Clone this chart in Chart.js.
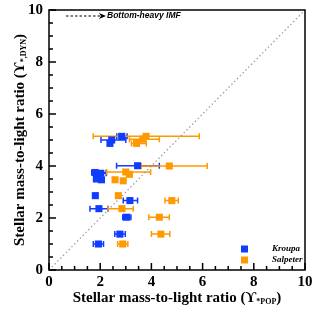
<!DOCTYPE html>
<html>
<head>
<meta charset="utf-8">
<script src="https://cdn.jsdelivr.net/npm/chart.js@4/dist/chart.umd.min.js"></script>
<style>
  html, body { margin: 0; padding: 0; background: #fff; }
  #wrap { width: 312px; height: 315px; }
</style>
</head>
<body>
<div id="wrap"><canvas id="chart"></canvas></div>
<script>
// Kroupa IMF points (blue)
var kroupaX = [2.84, 2.45, 2.38, 3.46, 1.80, 2.02, 1.85, 2.05, 1.81, 3.16, 1.95, 3.03, 2.77, 1.93]
var kroupaY = [5.14, 5.00, 4.87, 4.01, 3.75, 3.72, 3.50, 3.47, 2.86, 2.67, 2.36, 2.03, 1.38, 1.00]
var kroupaLo = [2.65, 2.03, null, 2.64, 1.67, 1.80, null, null, null, 2.90, 1.60, 2.88, 2.57, 1.73]
var kroupaHi = [3.05, 3.00, null, 4.31, 2.24, 2.24, null, null, null, 3.46, 2.30, 3.20, 2.98, 2.13]

// Salpeter IMF points (orange)
var salpeterX = [3.79, 3.66, 3.42, 4.70, 3.00, 3.14, 2.58, 2.90, 2.71, 4.80, 2.85, 4.31, 4.37, 2.88]
var salpeterY = [5.14, 5.03, 4.87, 4.00, 3.77, 3.68, 3.47, 3.43, 2.86, 2.67, 2.36, 2.03, 1.38, 1.00]
var salpeterLo = [1.73, 3.14, 3.22, 3.60, 2.25, null, null, null, null, 4.53, 2.30, 3.90, 4.00, 2.68]
var salpeterHi = [5.87, 4.31, 3.80, 6.18, 3.97, null, null, null, null, 5.05, 3.29, 4.70, 4.72, 3.08]

// one-to-one line
var diagX = [0, 10]
var diagY = [0, 10]

var tickValues = [0, 2, 4, 6, 8, 10]
var minorStep = 0.5

const blue = '#0f3cff'
const orange = '#ff9900'

function pts(xs, ys) {
    return xs.map((x, i) => ({ x: x, y: ys[i] }))
}

// horizontal error bars, drawn under the squares
const errorBars = {
    id: 'errorBars',
    beforeDatasetsDraw(chart) {
        const ctx = chart.ctx
        const xs = chart.scales.x, ys = chart.scales.y
        chart.data.datasets.forEach(ds => {
            if (!ds.xLo) return
            ctx.save()
            ctx.strokeStyle = ds.backgroundColor
            ctx.lineWidth = 1.5
            ds.data.forEach((p, i) => {
                if (ds.xLo[i] == null) return
                const y = ys.getPixelForValue(p.y)
                const a = xs.getPixelForValue(ds.xLo[i])
                const b = xs.getPixelForValue(ds.xHi[i])
                ctx.beginPath()
                ctx.moveTo(a, y); ctx.lineTo(b, y)
                ctx.moveTo(a, y - 3); ctx.lineTo(a, y + 3)
                ctx.moveTo(b, y - 3); ctx.lineTo(b, y + 3)
                ctx.stroke()
            })
            ctx.restore()
        })
    }
}

// frame, inward ticks, titles, legend and annotation
const decor = {
    id: 'decor',
    afterDraw(chart) {
        const ctx = chart.ctx
        const area = chart.chartArea
        const xs = chart.scales.x, ys = chart.scales.y
        ctx.save()
        ctx.setLineDash([])
        ctx.strokeStyle = '#000'
        ctx.lineWidth = 1.5
        ctx.strokeRect(area.left, area.top, area.right - area.left, area.bottom - area.top)

        // inward tick marks (major every 2, minor every 0.5)
        ctx.fillStyle = '#000'
        for (let k = 0; k <= 20; k++) {
            const v = k * minorStep
            const len = tickValues.includes(v) ? 7 : 4
            const px = xs.getPixelForValue(v)
            ctx.fillRect(px - 0.75, area.bottom - len, 1.5, len)
            const py = ys.getPixelForValue(v)
            ctx.fillRect(ys.right, py - 0.75, len, 1.5)
        }

        // axis titles with subscripts
        function title(main, sub, cx, cy, rot) {
            ctx.save()
            ctx.translate(cx, cy)
            ctx.rotate(rot)
            ctx.fillStyle = '#000'
            ctx.textBaseline = 'middle'
            ctx.textAlign = 'left'
            ctx.font = 'bold 15px "Liberation Serif"'
            const w1 = ctx.measureText(main).width
            const w3 = ctx.measureText(')').width
            ctx.font = 'bold 8px "Liberation Serif"'
            const w2 = ctx.measureText(sub).width
            let x = -(w1 + w2 + w3) / 2
            ctx.font = 'bold 15px "Liberation Serif"'
            ctx.fillText(main, x, 0)
            x += w1
            ctx.font = 'bold 8px "Liberation Serif"'
            ctx.fillText(sub, x, 4)
            x += w2
            ctx.font = 'bold 15px "Liberation Serif"'
            ctx.fillText(')', x, 0)
            ctx.restore()
        }
        title('Stellar mass-to-light ratio (\u03d2', '*POP', (area.left + area.right) / 2, 298, 0)
        title('Stellar mass-to-light ratio (\u03d2', '*,DYN', 20, (area.top + area.bottom) / 2, -Math.PI / 2)

        // legend
        const items = chart.data.datasets.filter(d => d.xLo)
        items.forEach((d, i) => {
            const y = 249 + i * 11
            ctx.fillStyle = d.backgroundColor
            ctx.fillRect(241, y - 3.5, 7, 7)
            ctx.fillStyle = '#000'
            ctx.font = 'bold italic 9px "Liberation Serif"'
            ctx.textBaseline = 'middle'
            ctx.textAlign = 'left'
            ctx.fillText(d.label, 272, y)
        })

        // bottom-heavy IMF arrow
        ctx.strokeStyle = '#000'
        ctx.lineWidth = 1
        ctx.setLineDash([2.5, 2])
        ctx.beginPath()
        ctx.moveTo(66, 16); ctx.lineTo(101, 16)
        ctx.stroke()
        ctx.setLineDash([])
        ctx.fillStyle = '#000'
        ctx.beginPath()
        ctx.moveTo(106, 16); ctx.lineTo(99, 13); ctx.lineTo(101, 16); ctx.lineTo(99, 19)
        ctx.closePath()
        ctx.fill()
        ctx.font = 'bold italic 8.5px "Liberation Sans"'
        ctx.textBaseline = 'middle'
        ctx.fillText('Bottom-heavy IMF', 107, 16)
        ctx.restore()
    }
}

const tickFont = { family: 'Liberation Serif', size: 15, weight: 'bold' }

new Chart(document.getElementById('chart'), {
    type: 'scatter',
    data: {
        datasets: [{
            type: 'line',
            label: 'one-to-one',
            data: pts(diagX, diagY),
            borderColor: '#9a9a9a',
            borderWidth: 1.2,
            borderDash: [1.5, 2.5],
            pointRadius: 0,
            fill: false
        }, {
            label: 'Kroupa',
            data: pts(kroupaX, kroupaY),
            xLo: kroupaLo,
            xHi: kroupaHi,
            backgroundColor: blue,
            borderColor: blue,
            pointStyle: 'rect',
            pointRadius: 5,
            borderWidth: 0
        }, {
            label: 'Salpeter',
            data: pts(salpeterX, salpeterY),
            xLo: salpeterLo,
            xHi: salpeterHi,
            backgroundColor: orange,
            borderColor: orange,
            pointStyle: 'rect',
            pointRadius: 5,
            borderWidth: 0
        }]
    },
    options: {
        responsive: true,
        maintainAspectRatio: false,
        animation: false,
        layout: { padding: { top: 10, right: 7, left: 0, bottom: 0 } },
        plugins: { legend: { display: false }, tooltip: { enabled: false } },
        scales: {
            x: {
                type: 'linear',
                min: 0, max: 10,
                grid: { display: false, drawTicks: false },
                border: { display: false },
                ticks: {
                    stepSize: 0.5,
                    autoSkip: false,
                    maxRotation: 0,
                    padding: 3,
                    color: '#000',
                    font: tickFont,
                    callback: v => tickValues.includes(v) ? v : ''
                },
                afterFit: s => { s.height = 45; s.paddingLeft = 0; s.paddingRight = 0 }
            },
            y: {
                type: 'linear',
                min: 0, max: 10,
                grid: { display: false, drawTicks: false },
                border: { display: false },
                ticks: {
                    stepSize: 0.5,
                    autoSkip: false,
                    padding: 6,
                    color: '#000',
                    font: tickFont,
                    callback: v => tickValues.includes(v) ? v : ''
                },
                afterFit: s => { s.width = 49; s.paddingTop = 0; s.paddingBottom = 0 }
            }
        }
    },
    plugins: [errorBars, decor]
});
</script>
</body>
</html>
